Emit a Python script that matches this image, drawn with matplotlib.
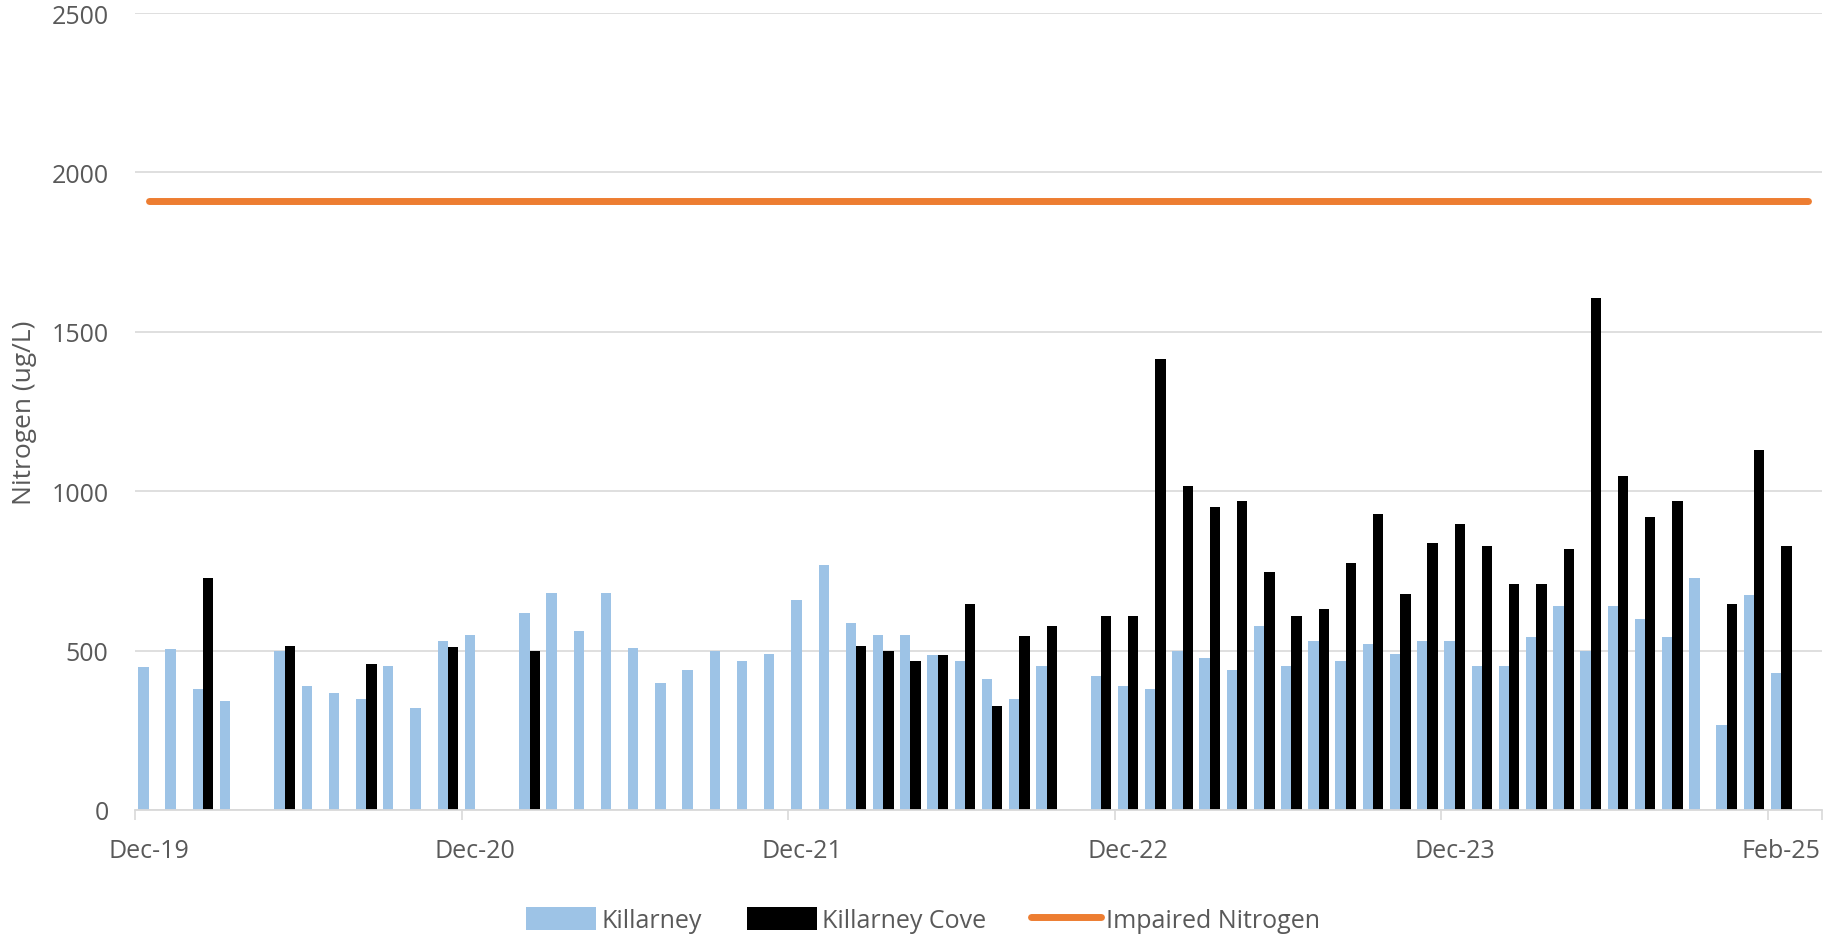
import numpy as np
import matplotlib
matplotlib.use('Agg')
import matplotlib.pyplot as plt
from matplotlib.patches import Patch
from matplotlib.lines import Line2D

plt.rcParams['font.family'] = ['Open Sans', 'DejaVu Sans']

nan = np.nan

# monthly samples, Dec-19 .. Feb-25 (category index)
killarney = [450, 505, 378, 342, nan, 500, 390, 368, 347, 452,
             320, 530, 550, nan, 617, 680, 560, 680, 508, 398,
             440, 498, 467, 488, 660, 768, 586, 548, 548, 487,
             467, 410, 347, 451, nan, 420, 389, 378, 499, 477,
             440, 577, 451, 529, 467, 520, 488, 529, 529, 451,
             451, 542, 641, 499, 641, 598, 542, 729, 268, 673,
             430]

killarney_cove = [nan, nan, 728, nan, nan, 515, nan, nan, 458, nan,
                  nan, 510, nan, nan, 500, nan, nan, nan, nan, nan,
                  nan, nan, nan, nan, nan, nan, 513, 500, 467, 487,
                  645, 327, 546, 577, nan, 608, 609, 1415, 1017, 950,
                  970, 745, 609, 630, 776, 928, 676, 838, 896, 827,
                  708, 708, 819, 1605, 1049, 918, 970, nan, 646, 1129,
                  827]

impaired_nitrogen = 1910

tick_pos = [0, 12, 24, 36, 48, 60]
tick_labels = ['Dec-19', 'Dec-20', 'Dec-21', 'Dec-22', 'Dec-23', 'Feb-25']

blue = '#9DC3E6'
black = '#000000'
orange = '#ED7D31'
grey_txt = '#595959'
grid_c = '#D9D9D9'

fig = plt.figure(figsize=(18.24, 9.37), dpi=100)
ax = fig.add_axes([135 / 1824, 1 - 811 / 937, 1687 / 1824, 797 / 937])

x = np.arange(len(killarney))
w = 0.38
ax.bar(x - 0.19, killarney, width=w, color=blue, zorder=3)
ax.bar(x + 0.19, killarney_cove, width=w, color=black, zorder=3)

xl = np.arange(len(killarney) + 1)
ax.plot(xl, [impaired_nitrogen] * len(xl), color=orange, lw=5,
        solid_capstyle='round', zorder=4)

ax.set_xlim(-0.5, len(killarney) + 0.5)
ax.set_ylim(0, 2500)
ax.set_yticks(range(0, 2501, 500))
ax.yaxis.grid(True, color=grid_c, lw=1.2, zorder=0)
ax.set_axisbelow(True)

ax.set_xticks(tick_pos)
ax.set_xticklabels(tick_labels)
ax.set_xticks([p - 0.5 for p in tick_pos] + [len(killarney) + 0.5], minor=True)
ax.tick_params(axis='x', which='major', length=0, pad=20, labelsize=18, labelcolor=grey_txt)
ax.tick_params(axis='x', which='minor', length=7, width=1.2, color=grid_c)
ax.tick_params(axis='y', length=0, pad=19, labelsize=18, labelcolor=grey_txt)

for s in ['top', 'right', 'left']:
    ax.spines[s].set_visible(False)
ax.spines['bottom'].set_color(grid_c)
ax.spines['bottom'].set_linewidth(1.3)
ax.spines['bottom'].set_zorder(5)

ax.set_ylabel('Nitrogen (ug/L)', fontsize=19, color=grey_txt)
ax.yaxis.set_label_coords(-0.058, 0.5)

handles = [Patch(facecolor=blue, edgecolor='none', label='Killarney'),
           Patch(facecolor=black, edgecolor='none', label='Killarney Cove'),
           Line2D([0], [0], color=orange, lw=5, solid_capstyle='round',
                  label='Impaired Nitrogen')]
fig.legend(handles=handles, loc='center', bbox_to_anchor=(923 / 1824, 1 - 921 / 937),
           ncol=3, frameon=False, fontsize=18, labelcolor=grey_txt,
           handlelength=2.8, handleheight=1.0, handletextpad=0.2,
           columnspacing=1.8, borderaxespad=0)

fig.savefig('out.png', dpi=100)
